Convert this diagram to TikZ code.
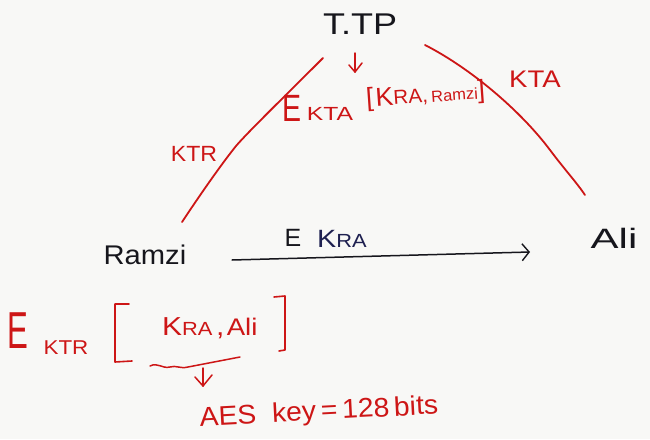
\documentclass[tikz,border=0pt]{standalone}
\usepackage{fontspec}
\setmainfont{Liberation Sans}
\usetikzlibrary{arrows.meta}
\definecolor{ink}{RGB}{22,22,28}
\definecolor{navy}{RGB}{30,32,80}
\definecolor{pen}{RGB}{205,22,22}
\definecolor{paper}{RGB}{248,248,246}
\newcommand{\fs}[1]{\fontsize{#1}{#1}\selectfont}
\tikzset{
  txt/.style={inner sep=0pt, text=ink},
  red/.style={inner sep=0pt, text=pen},
  redline/.style={draw=pen, line width=1.8pt, line cap=round, line join=round},
  blackline/.style={draw=ink, line width=1.5pt, line cap=round, line join=round},
  barb/.style={-{Straight Barb[length=7pt,width=17pt,line width=1.4pt]}}
}
\begin{document}
\begin{tikzpicture}[x=1pt,y=-1pt]
\useasboundingbox (0,0) rectangle (650,439);
\fill[paper] (0,0) rectangle (650,439);

% parties
\node[txt, font=\fs{30}, xscale=1.2] (ttp) at (360,24) {T.TP};
\node[txt, font=\fs{27}, xscale=1.08] (ramzi) at (145,255) {Ramzi};
\node[txt, font=\fs{28}, xscale=1.5] (ali) at (614,238) {Ali};

% key links to the trusted third party
\coordinate (ltop) at (323,58);
\coordinate (lbot) at (182,222);
\draw[redline] (ltop) .. controls (285,96) and (248,132) .. (236,146)
                      .. controls (220,166) and (200,195) .. (lbot);
\coordinate (rtop) at (425,45);
\coordinate (rbot) at (585,195);
\draw[redline] (rtop) .. controls (470,68) and (520,110) .. (550,150)
                      .. controls (565,170) and (577,183) .. (rbot);
\node[red, font=\fs{22}, xscale=1.05] (ktr) at (194,154) {KTR};
\node[red, font=\fs{24}, xscale=1.15] (kta) at (535,79) {KTA};

% message issued by T.TP
\coordinate (ta1) at (355,53);
\coordinate (ta2) at (355,72);
\draw[redline, line width=1.5pt] (ta1) -- (ta2);
\draw[redline, line width=1.5pt] (349,65) -- (ta2) -- (362,63);
\node[red, font=\fs{38}, xscale=0.75] (e1) at (292,108) {E};
\node[red, font=\fs{19}, xscale=1.3] (e1s) at (330,114) {KTA};
\node[red, font=\fs{26}, rotate=4, anchor=west, xscale=1.03] (e1b) at (366,100)
  {[\kern2pt K{\fs{20}RA,\,}{\fs{16}Ramzi}]};

% session key sent from Ramzi to Ali
\draw[blackline, barb] (232,260) -- (530,252);
\node[txt, font=\fs{25}] (ek) at (293,238) {E};
\node[txt, text=navy, font=\fs{25}, anchor=west, xscale=1.15] (kra) at (317,239) {K{\fs{19}RA}};

% ticket built by Ramzi
\node[red, font=\fs{52}, xscale=0.6] (e2) at (18,331) {E};
\node[red, font=\fs{20}, xscale=1.12] (e2s) at (66,348) {KTR};
\draw[redline, line width=1.6pt] (129,304) -- (115,304) -- (115,362) -- (132,361);
\node[red, font=\fs{26}, anchor=west, xscale=1.15] (kra2) at (162,328) {K{\fs{19}RA\,},\kern2pt\fs{24}Ali};
\draw[redline, line width=1.6pt] (274,297) -- (285,296) -- (285,350) -- (279,351);
\draw[redline, line width=1.5pt] (150,366) .. controls (158,362) and (162,369) .. (170,367)
  .. controls (176,365) and (180,369) .. (188,367) -- (240,357);
\coordinate (ba1) at (203,368);
\coordinate (ba2) at (203,386);
\draw[redline, line width=1.5pt] (ba1) -- (ba2);
\draw[redline, line width=1.5pt] (195,377) -- (ba2) -- (212,375);
\node[red, font=\fs{27}, rotate=3, xscale=1.05] (aes) at (319,413) {AES\ \ key\,=\,128\,bits};
\end{tikzpicture}
\end{document}
